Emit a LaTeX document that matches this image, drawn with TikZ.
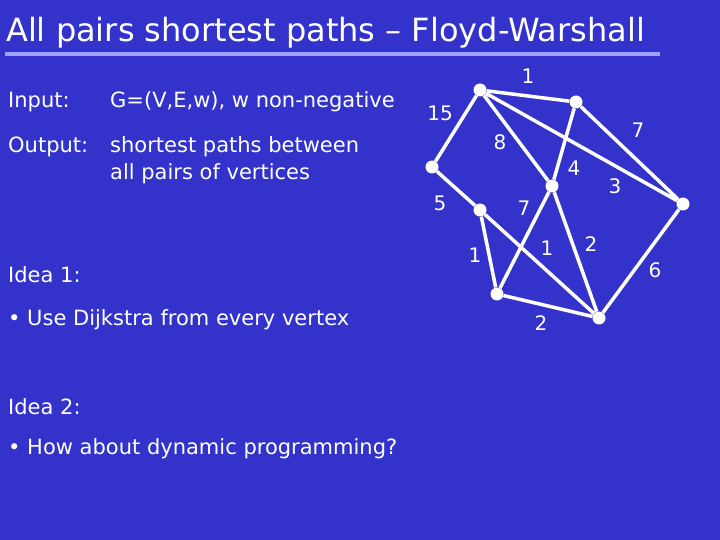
\documentclass[tikz,border=0pt]{standalone}
\usepackage{fontspec}
\setmainfont{DejaVu Sans}
\definecolor{bg}{RGB}{51,51,204}
\definecolor{ul}{RGB}{160,160,255}
\begin{document}
\begin{tikzpicture}[x=1pt,y=-1pt,
  v/.style={circle,fill=white,inner sep=0pt,minimum size=13pt},
  e/.style={white,line width=3.5pt},
  w/.style={text=white,font=\fontsize{20}{22}\selectfont},
  txt/.style={text=white,anchor=west,inner sep=0pt,font=\fontsize{21}{24}\selectfont}]
\fill[bg] (0,0) rectangle (720,540);
\useasboundingbox (0,0) rectangle (720,540);
\node[txt,font=\fontsize{32}{36}\selectfont] (title) at (6,33) {All pairs shortest paths – Floyd-Warshall};
\draw[ul,line width=4pt] (5,54) -- (660,54);
\node[txt] (in) at (8,102) {Input:};
\node[txt] (g) at (110,102) {G=(V,E,w), w non-negative};
\node[txt] (out) at (8,147) {Output:};
\node[txt] (out1) at (110,147) {shortest paths between};
\node[txt] (out2) at (110,174) {all pairs of vertices};
\node[txt] (i1) at (8,275) {Idea 1:};
\node[txt] (d1) at (8,320) {• Use Dijkstra from every vertex};
\node[txt] (i2) at (8,407) {Idea 2:};
\node[txt] (d2) at (8,449) {• How about dynamic programming?};
\node[v] (A) at (480,90) {};
\node[v] (B) at (576,102) {};
\node[v] (C) at (432,167) {};
\node[v] (D) at (552,186) {};
\node[v] (E) at (683,204) {};
\node[v] (F) at (480,210) {};
\node[v] (G) at (497,294) {};
\node[v] (H) at (599,318) {};
\draw[e] (A)--(B) (A)--(C) (A)--(D) (A)--(E) (B)--(E) (B)--(D) (D)--(G)
  (C)--(F) (F)--(G) (F)--(H) (D)--(H) (G)--(H) (E)--(H);
\node[w] (l1) at (528,76) {1};
\node[w] (l15) at (440,113) {15};
\node[w] (l7a) at (638,130) {7};
\node[w] (l8) at (500,142) {8};
\node[w] (l4) at (574,168) {4};
\node[w] (l3) at (615,186) {3};
\node[w] (l5) at (440,203) {5};
\node[w] (l7b) at (524,208) {7};
\node[w] (l1b) at (475,255) {1};
\node[w] (l1c) at (547,248) {1};
\node[w] (l2a) at (591,244) {2};
\node[w] (l6) at (655,270) {6};
\node[w] (l2b) at (541,323) {2};
\end{tikzpicture}
\end{document}
